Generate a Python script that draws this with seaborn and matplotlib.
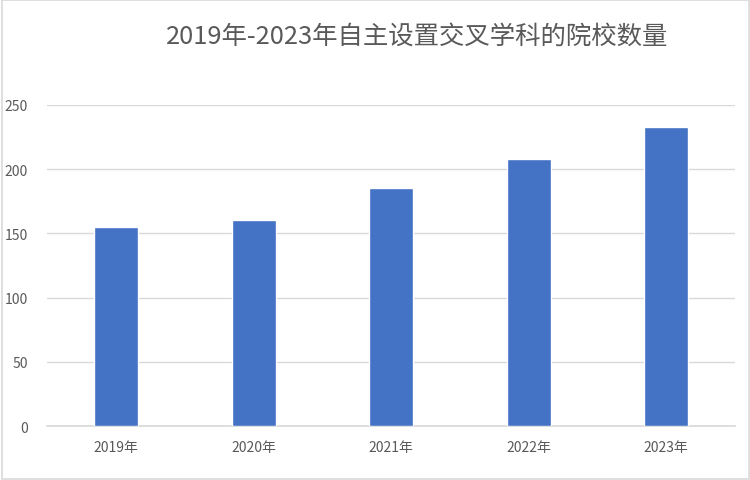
import seaborn as sns
import matplotlib.pyplot as plt
import pandas as pd

years = ['2019年', '2020年', '2021年', '2022年', '2023年']
counts = [155, 160, 185, 208, 233]
title = '2019年-2023年自主设置交叉学科的院校数量'

sns.set_theme(style='white')
plt.rcParams['font.family'] = ['Noto Sans CJK SC', 'DejaVu Sans']

df = pd.DataFrame({'year': years, 'count': counts})

fig = plt.figure(figsize=(7.5, 4.81), dpi=100)
ax = fig.add_axes([0.063, 0.112, 0.917, 0.668])

sns.barplot(data=df, x='year', y='count', color='#4472C4', width=0.32,
            saturation=1, ax=ax, zorder=3)

ax.set_ylim(0, 250)
ax.set_yticks(range(0, 251, 50))
ax.set_xlim(-0.5, 4.5)
ax.grid(axis='y', color='#d9d9d9', linewidth=1, zorder=0)
ax.set_xlabel('')
ax.set_ylabel('')
for s in ['top', 'right', 'left']:
    ax.spines[s].set_visible(False)
ax.spines['bottom'].set_color('#d9d9d9')
ax.tick_params(axis='both', length=0, colors='#595959', labelsize=10)
ax.tick_params(axis='x', pad=10)
ax.tick_params(axis='y', pad=14)

fig.text(0.556, 0.923, title, ha='center', va='center', fontsize=18.3,
         color='#595959', fontweight='light')

# light border round the chart area
fig.patches.append(plt.Rectangle((0.002, 0.002), 0.996, 0.996, transform=fig.transFigure,
                                 fill=False, edgecolor='#d9d9d9', linewidth=1.2))

fig.savefig('out.png', dpi=100)
